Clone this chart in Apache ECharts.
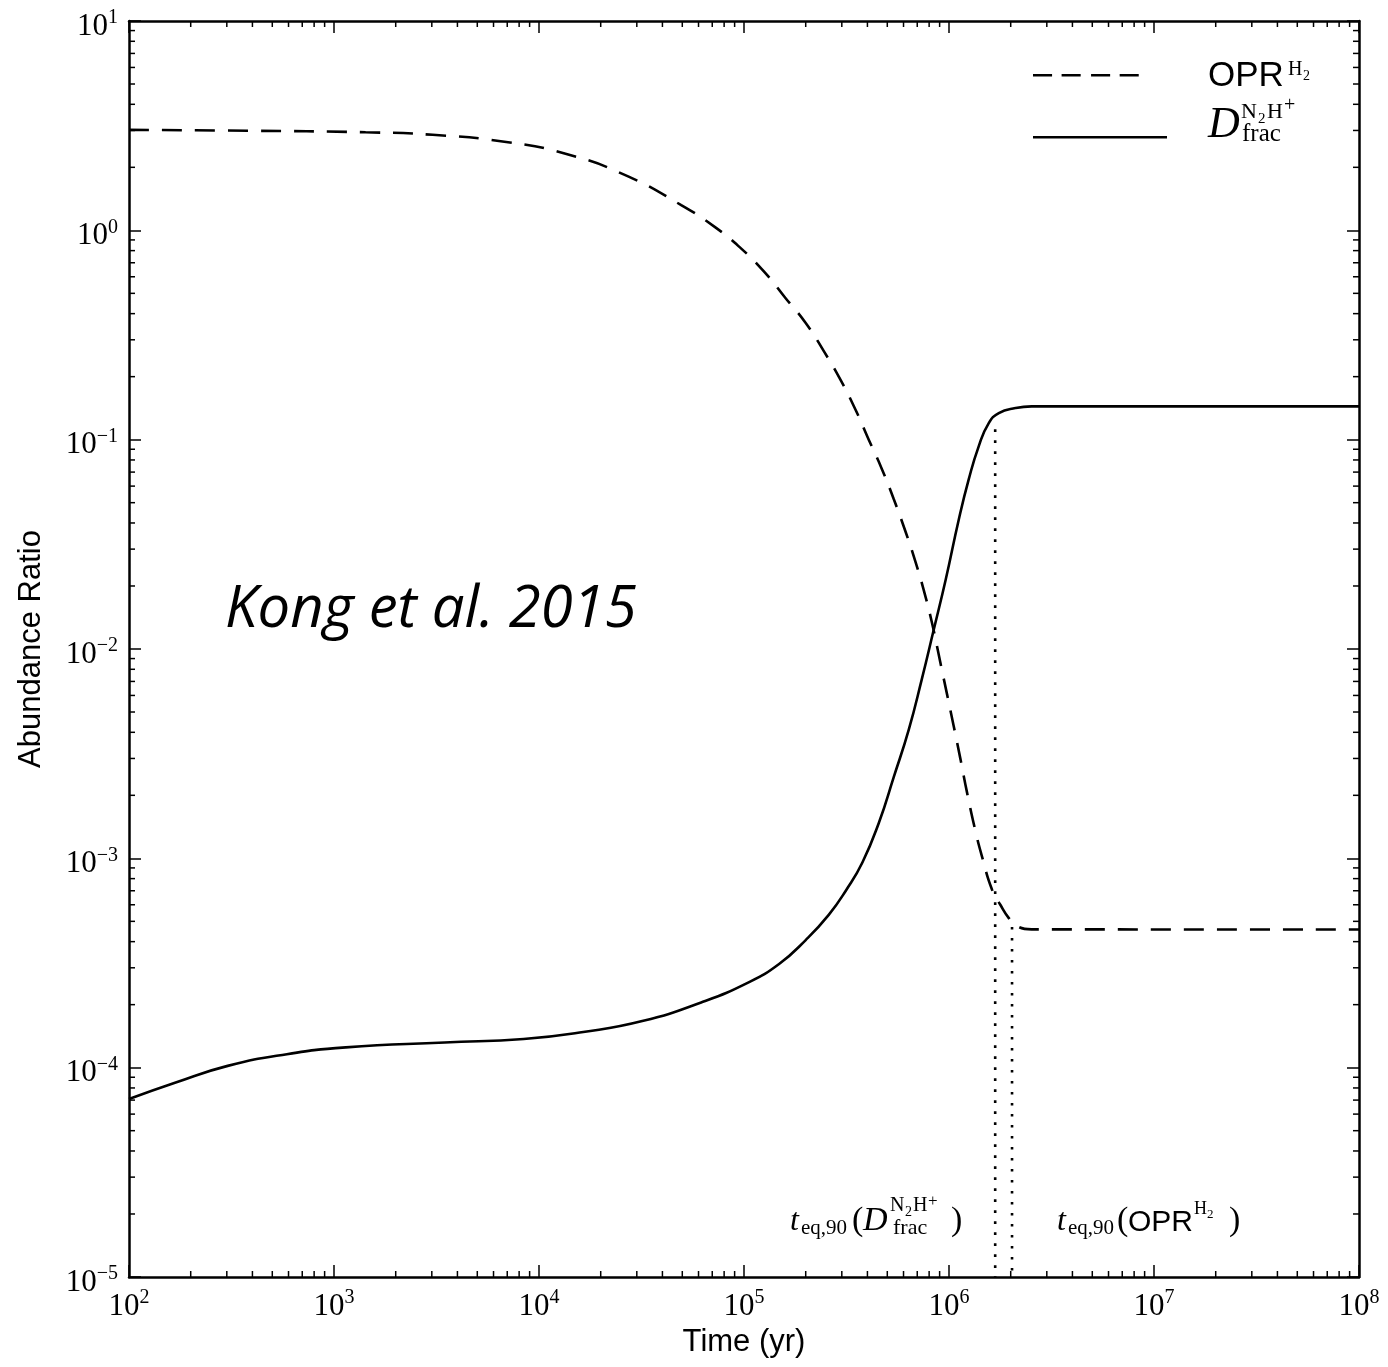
<!DOCTYPE html>
<html><head><meta charset="utf-8">
<script src="https://cdn.jsdelivr.net/npm/echarts@6/dist/echarts.min.js"></script>
<style>html,body{margin:0;padding:0;background:#fff}#c{width:1388px;height:1367px}</style>
</head><body><div id="c"></div>
<script>
// ---- data ----
const tOpr = [1e2, 380, 1426, 3027, 6776, 1.374e4, 2.72e4, 4.94e4, 7.28e4, 9.64e4, 1.253e5, 1.596e5, 2.0e5, 2.455e5, 2.958e5, 3.5e5, 4.06e5, 4.72e5, 5.38e5, 6.14e5, 6.87e5, 7.53e5, 8.28e5, 9.08e5, 1.054e6, 1.138e6, 1.225e6, 1.346e6, 1.449e6, 1.622e6, 1.78e6, 1.95e6, 2.14e6, 2.53e6, 1e8];
const vOpr = [3.02, 2.99, 2.94, 2.86, 2.65, 2.31, 1.81, 1.32, 1.03, 0.822, 0.635, 0.474, 0.361, 0.264, 0.193, 0.139, 0.100, 0.0719, 0.0519, 0.0363, 0.0260, 0.0191, 0.0132, 0.00859, 0.00429, 0.00297, 0.00206, 0.00135, 0.00102, 7.08e-4, 6.0e-4, 5.21e-4, 4.75e-4, 4.58e-4, 4.57e-4];
const tDfrac = [1e2, 169, 303, 589, 1143, 3467, 8414, 1.644e4, 3.19e4, 6.18e4, 1.047e5, 1.483e5, 2.0e5, 2.59e5, 3.16e5, 3.78e5, 4.55e5, 5.38e5, 6.37e5, 7.36e5, 8.43e5, 9.64e5, 1.117e6, 1.247e6, 1.396e6, 1.563e6, 1.75e6, 2.11e6, 2.53e6, 1e8];
const vDfrac = [7.08e-5, 8.49e-5, 1.02e-4, 1.16e-4, 1.25e-4, 1.32e-4, 1.37e-4, 1.48e-4, 1.67e-4, 2.05e-4, 2.55e-4, 3.13e-4, 4.07e-4, 5.37e-4, 7.08e-4, 9.55e-4, 1.48e-3, 2.45e-3, 4.13e-3, 7.14e-3, 0.01239, 0.02148, 0.0417, 0.0644, 0.0929, 0.120, 0.134, 0.1416, 0.1442, 0.1442];
const tEq = [1.68e6, 2.03e6];          // t_eq,90 (Dfrac), t_eq,90 (OPR)
const tEqTop = [0.112, 4.7e-4];         // where each dotted line starts
const xRange = [1e2, 1e8];
const yRange = [1e-5, 10];
const xDecades = [2, 3, 4, 5, 6, 7];     // minor tick decades (x)
const yDecades = [-5, -4, -3, -2, -1, 0];// minor tick decades (y)
const minorMult = [2, 3, 4, 5, 6, 7, 8, 9];

// ---- build ----
const zip = (a, b) => a.map((v, i) => [v, b[i]]);
const minorData = [];
xDecades.forEach(k => minorMult.forEach(m => minorData.push([m * Math.pow(10, k), 1, 0])));
yDecades.forEach(k => minorMult.forEach(m => minorData.push([1000, m * Math.pow(10, k), 1])));

const SERIF = 'Liberation Serif', SANS = 'Liberation Sans';
function supLabel(v) {
  const e = Math.round(Math.log10(v));
  return '{b|10}{s|' + String(e).replace('-', '\u2212') + '}';
}
const labelRich = {
  b: { fontFamily: SERIF, fontSize: 31, color: '#000', lineHeight: 34, verticalAlign: 'bottom' },
  s: { fontFamily: SERIF, fontSize: 20, color: '#000', lineHeight: 20, verticalAlign: 'top' }
};
function T(text, x, base, size, fam, italic) {
  return { type: 'text', x: x, y: base - 0.34 * size, silent: true, z: 100,
    style: { text: text, fontSize: size, fontFamily: fam, fontStyle: italic ? 'italic' : 'normal',
      fill: '#000', align: 'left', verticalAlign: 'middle', textAlign: 'left', textVerticalAlign: 'middle' } };
}

const axisLineStyle = { color: '#000', width: 2.5 };
const tickStyle = { color: '#000', width: 1.5 };
const legendBase = { orient: 'horizontal', left: 1033, padding: 0, itemHeight: 2.6, formatter: () => '',
  selectedMode: false, textStyle: { fontSize: 1, lineHeight: 1 }, itemStyle: { color: '#000' } };

const option = {
  backgroundColor: '#fff',
  animation: false,
  grid: { left: 129, right: 29, top: 21, bottom: 90, containLabel: false, outerBoundsMode: 'none' },
  xAxis: [
    { type: 'log', logBase: 10, min: xRange[0], max: xRange[1], splitNumber: 6, position: 'bottom',
      name: 'Time (yr)', nameLocation: 'middle', nameGap: 48,
      nameTextStyle: { fontFamily: SANS, fontSize: 31, color: '#000' },
      axisLine: { show: true, onZero: false, lineStyle: axisLineStyle },
      axisTick: { show: true, inside: true, length: 12, lineStyle: tickStyle },
      minorTick: { show: false }, splitLine: { show: false },
      axisLabel: { show: true, margin: 11, formatter: supLabel, rich: labelRich, color: '#000', showMinLabel: true, showMaxLabel: true } },
    { type: 'log', logBase: 10, min: xRange[0], max: xRange[1], splitNumber: 6, position: 'top',
      axisLine: { show: true, onZero: false, lineStyle: axisLineStyle },
      axisTick: { show: true, inside: true, length: 12, lineStyle: tickStyle },
      axisLabel: { show: false }, splitLine: { show: false } }
  ],
  yAxis: [
    { type: 'log', logBase: 10, min: yRange[0], max: yRange[1], splitNumber: 6, position: 'left',
      name: 'Abundance Ratio', nameLocation: 'middle', nameGap: 82, nameRotate: 90,
      nameTextStyle: { fontFamily: SANS, fontSize: 31, color: '#000' },
      axisLine: { show: true, onZero: false, lineStyle: axisLineStyle },
      axisTick: { show: true, inside: true, length: 12, lineStyle: tickStyle },
      minorTick: { show: false }, splitLine: { show: false },
      axisLabel: { show: true, margin: 11, formatter: supLabel, rich: labelRich, color: '#000', padding: [8, 0, 0, 0], showMinLabel: true, showMaxLabel: true } },
    { type: 'log', logBase: 10, min: yRange[0], max: yRange[1], splitNumber: 6, position: 'right',
      axisLine: { show: true, onZero: false, lineStyle: axisLineStyle },
      axisTick: { show: true, inside: true, length: 12, lineStyle: tickStyle },
      axisLabel: { show: false }, splitLine: { show: false } }
  ],
  legend: [
    Object.assign({}, legendBase, { top: 74, itemWidth: 126,
      data: [{ name: 'OPR', icon: 'path://M0,0h22v3h-22zM33,0h22v3h-22zM67,0h22v3h-22zM100,0h22v3h-22z' }] }),
    Object.assign({}, legendBase, { top: 136, itemWidth: 134,
      data: [{ name: 'Dfrac', icon: 'rect' }] })
  ],
  series: [
    { name: 'OPR', type: 'line', data: zip(tOpr, vOpr), showSymbol: false, symbol: 'none',
      smooth: 0.5, z: 5,
      lineStyle: { color: '#000', width: 2.6, type: [20, 13] }, itemStyle: { color: '#000' } },
    { name: 'Dfrac', type: 'line', data: zip(tDfrac, vDfrac), showSymbol: false, symbol: 'none',
      smooth: 0.5, z: 5,
      lineStyle: { color: '#000', width: 2.6, type: 'solid' }, itemStyle: { color: '#000' } },
    { name: 'eqD', type: 'line', data: [[tEq[0], tEqTop[0]], [tEq[0], yRange[0]]], showSymbol: false, symbol: 'none',
      lineStyle: { color: '#000', width: 2.6, type: [2.6, 8.4] }, z: 4 },
    { name: 'eqOPR', type: 'line', data: [[tEq[1], tEqTop[1]], [tEq[1], yRange[0]]], showSymbol: false, symbol: 'none',
      lineStyle: { color: '#000', width: 2.6, type: [2.6, 8.4] }, z: 4 },
    { name: 'minor', type: 'custom', data: minorData, encode: { x: 0, y: 1 }, silent: true, z: 6, clip: false,
      renderItem: function (params, api) {
        const cs = params.coordSys;
        const p = api.coord([api.value(0), api.value(1)]);
        const L = 6, st = { stroke: '#000', lineWidth: 1.5 };
        if (api.value(2) === 0) {
          const x = p[0], yb = cs.y + cs.height, yt = cs.y;
          return { type: 'group', children: [
            { type: 'line', shape: { x1: x, y1: yb, x2: x, y2: yb - L }, style: st },
            { type: 'line', shape: { x1: x, y1: yt, x2: x, y2: yt + L }, style: st } ] };
        }
        const y = p[1], xl = cs.x, xr = cs.x + cs.width;
        return { type: 'group', children: [
          { type: 'line', shape: { x1: xl, y1: y, x2: xl + L, y2: y }, style: st },
          { type: 'line', shape: { x1: xr, y1: y, x2: xr - L, y2: y }, style: st } ] };
      } }
  ],
  graphic: [
    T('Kong et al. 2015', 225, 630, 58, 'Open Sans', true),
    // legend labels
    T('OPR', 1208, 88, 35, SANS, false),
    T('H', 1288, 77, 20, SERIF, false), T('2', 1303, 81, 14, SERIF, false),
    T('D', 1208, 140, 44, SERIF, true),
    T('N', 1241, 120, 22, SERIF, false), T('2', 1258, 124, 15, SERIF, false),
    T('H', 1267, 120, 22, SERIF, false), T('+', 1284, 113, 20, SERIF, false),
    T('frac', 1242, 143, 25, SERIF, false),
    // annotation 1
    T('t', 790, 1232, 32, SERIF, true),
    T('eq,90', 801, 1236, 21, SERIF, false),
    T('(', 852, 1233, 34, SERIF, false),
    T('D', 863, 1233, 34, SERIF, true),
    T('N', 890, 1213, 20, SERIF, false), T('2', 905, 1217, 14, SERIF, false),
    T('H', 913, 1213, 20, SERIF, false), T('+', 928, 1207, 17, SERIF, false),
    T('frac', 893, 1236, 22, SERIF, false),
    T(')', 951, 1233, 34, SERIF, false),
    // annotation 2
    T('t', 1057, 1232, 32, SERIF, true),
    T('eq,90', 1068, 1236, 21, SERIF, false),
    T('(', 1117, 1233, 34, SERIF, false),
    T('OPR', 1128, 1233, 30, SANS, false),
    T('H', 1194, 1215, 18, SERIF, false), T('2', 1207, 1219, 13, SERIF, false),
    T(')', 1229, 1233, 34, SERIF, false)
  ]
};
const chart = echarts.init(document.getElementById('c'), null, { renderer: 'canvas' });
chart.setOption(option);
</script></body></html>
